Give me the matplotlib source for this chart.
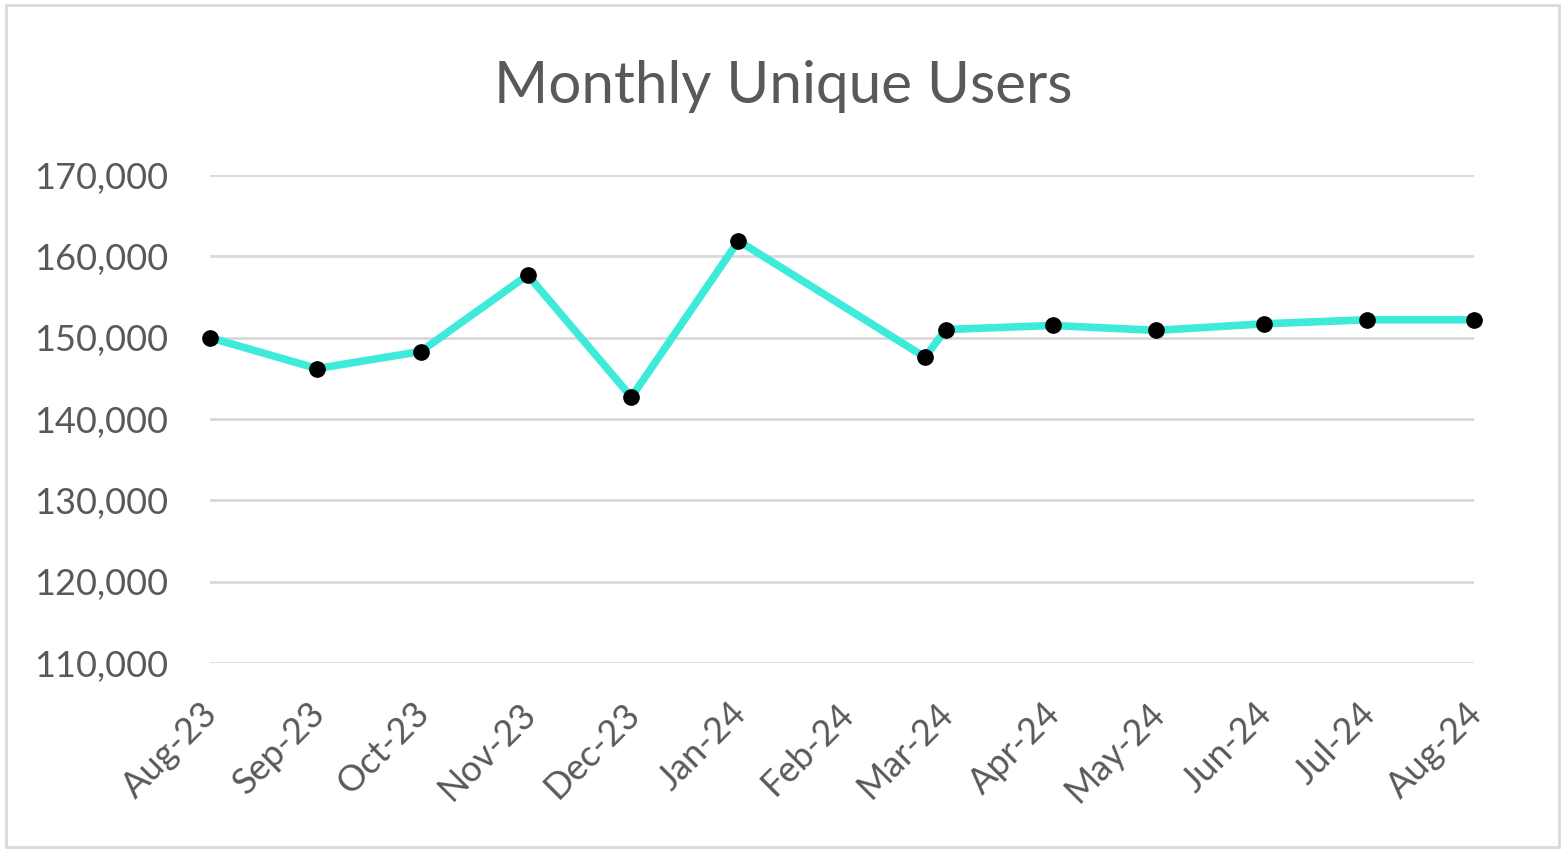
import matplotlib
matplotlib.use("Agg")
import matplotlib.pyplot as plt
import matplotlib.dates as mdates
from matplotlib.ticker import FuncFormatter
from matplotlib.patches import Rectangle
from matplotlib.transforms import ScaledTranslation
import numpy as np

plt.rcParams['font.family'] = ['Lato', 'DejaVu Sans']

# data (date axis, one point per month plus a late-Feb reading)
dates = np.array(['2023-08-01', '2023-09-01', '2023-10-01', '2023-11-01', '2023-12-01',
                  '2024-01-01', '2024-02-24', '2024-03-01', '2024-04-01', '2024-05-01',
                  '2024-06-01', '2024-07-01', '2024-08-01'], dtype='datetime64[D]')
users = [150000, 146200, 148300, 157700, 142700, 161900, 147600,
         151000, 151500, 150900, 151700, 152200, 152200]
tick_dates = np.array(['2023-08-01', '2023-09-01', '2023-10-01', '2023-11-01', '2023-12-01',
                       '2024-01-01', '2024-02-01', '2024-03-01', '2024-04-01', '2024-05-01',
                       '2024-06-01', '2024-07-01', '2024-08-01'], dtype='datetime64[D]')
y_ticks = [110000, 120000, 130000, 140000, 150000, 160000, 170000]

grey = '#595959'
fig = plt.figure(figsize=(15.67, 8.52), dpi=100)
ax = fig.add_axes([0.134, 0.2218, 0.8068, 0.5728])

ax.plot(dates, users, color='#3EEBDB', linewidth=5.5, solid_capstyle='round',
        marker='o', markersize=11, markerfacecolor='black', markeredgecolor='black',
        clip_on=False, zorder=3)

ax.set_xlim(tick_dates[0], tick_dates[-1])
ax.set_ylim(110000, 170000)
ax.set_yticks(y_ticks)
ax.yaxis.set_major_formatter(FuncFormatter(lambda v, p: f'{int(v):,}'))
ax.set_xticks(tick_dates)
ax.xaxis.set_major_formatter(mdates.DateFormatter('%b-%y'))

ax.grid(axis='y', color='#D9D9D9', linewidth=2)
ax.set_axisbelow(True)
for s in ax.spines.values():
    s.set_visible(False)
ax.tick_params(length=0, labelsize=26, labelcolor=grey)
ax.tick_params(axis='y', pad=30)
ax.tick_params(axis='x', pad=24)
shift = ScaledTranslation(-9 / 100, 0, fig.dpi_scale_trans)
for lbl in ax.get_xticklabels():
    lbl.set_rotation(45)
    lbl.set_ha('right')
    lbl.set_rotation_mode('anchor')
    lbl.set_transform(lbl.get_transform() + shift)

fig.text(0.5, 0.898, 'Monthly Unique Users', ha='center', va='center',
         fontsize=42, color=grey)

fig.patches.append(Rectangle((0.004, 0.006), 0.991, 0.988, transform=fig.transFigure,
                             fill=False, edgecolor='#D9D9D9', linewidth=2))

fig.savefig('out.png', dpi=100)
